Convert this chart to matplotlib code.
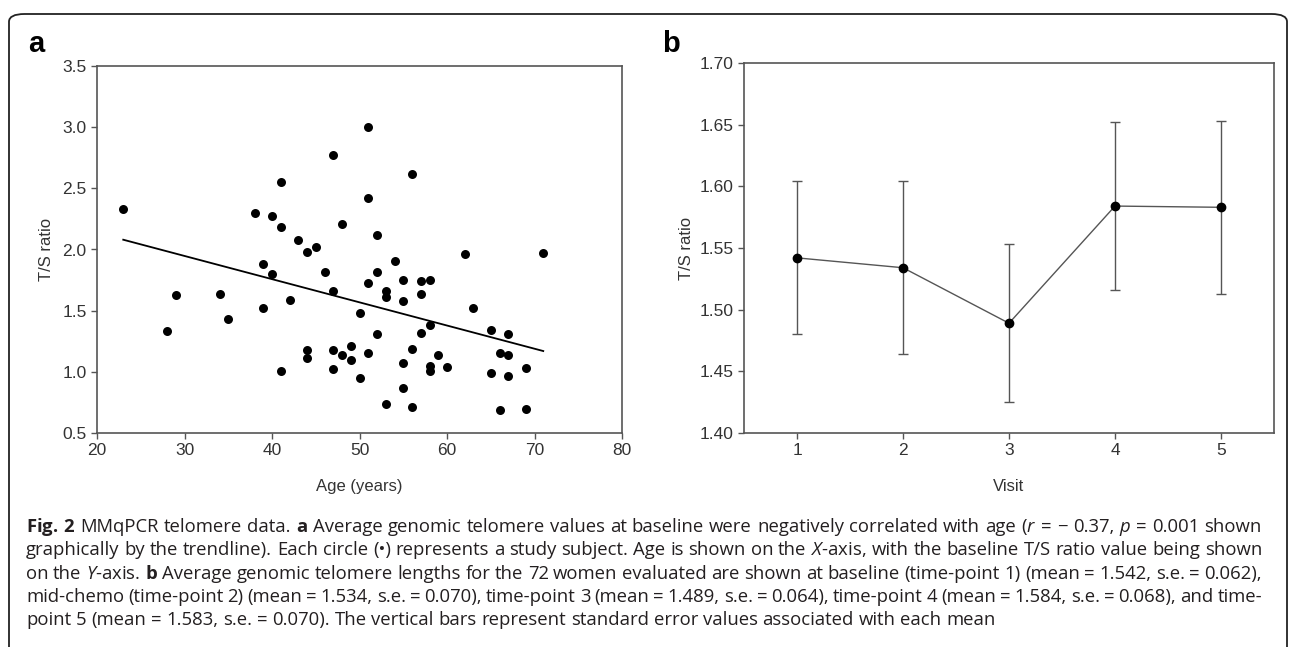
import matplotlib
matplotlib.use("Agg")
import matplotlib.pyplot as plt
from matplotlib.patches import FancyBboxPatch

# panel a: baseline T/S ratio against age
age = [23, 28, 29, 34, 35, 38, 39, 39, 40, 40, 41, 41, 41, 42, 43, 44, 44, 44,
       45, 46, 47, 47, 47, 47, 48, 48, 49, 49, 50, 50, 51, 51, 51, 51, 52, 52,
       52, 53, 53, 53, 54, 55, 55, 55, 55, 56, 56, 56, 57, 57, 57, 58, 58, 58,
       58, 59, 60, 62, 63, 65, 65, 66, 66, 67, 67, 67, 69, 69, 71]
ts_ratio = [2.33, 1.33, 1.63, 1.64, 1.43, 2.30, 1.88, 1.52, 2.27, 1.80, 2.55, 2.18,
            1.01, 1.59, 2.08, 1.98, 1.18, 1.11, 2.02, 1.82, 2.77, 1.66, 1.18, 1.02,
            2.21, 1.14, 1.21, 1.10, 1.48, 0.95, 3.00, 2.42, 1.73, 1.15, 2.12, 1.82,
            1.31, 1.66, 1.61, 0.74, 1.91, 1.75, 1.58, 1.07, 0.87, 2.62, 1.19, 0.71,
            1.74, 1.64, 1.32, 1.75, 1.38, 1.05, 1.01, 1.14, 1.04, 1.96, 1.52, 1.34,
            0.99, 1.15, 0.69, 1.31, 1.14, 0.97, 1.03, 0.70, 1.97]
trend_age = [23, 71]
trend_ts = [2.08, 1.17]

# panel b: mean T/S ratio per visit with standard errors
visits = [1, 2, 3, 4, 5]
mean_ts = [1.542, 1.534, 1.489, 1.584, 1.583]
se_ts = [0.062, 0.070, 0.064, 0.068, 0.070]

W, H = 1290, 647
plt.rcParams['mathtext.fontset'] = 'custom'
plt.rcParams['mathtext.rm'] = 'Open Sans'
plt.rcParams['mathtext.it'] = 'Open Sans:italic'
plt.rcParams['mathtext.bf'] = 'Open Sans:bold'

fig = plt.figure(figsize=(W / 100, H / 100), dpi=100)

# rounded frame around the figure, open at the bottom
frame = FancyBboxPatch((9 / W, -0.2), (1287 - 9) / W, 1.2 - 14 / H,
                       boxstyle="round,pad=0,rounding_size=0.012",
                       transform=fig.transFigure, fill=False,
                       edgecolor='#222222', linewidth=1.3)
fig.patches.append(frame)

sans = ['Liberation Sans', 'DejaVu Sans']
spine_col = '#555555'


def style_axes(ax):
    for s in ax.spines.values():
        s.set_color(spine_col)
        s.set_linewidth(1.2)
    ax.tick_params(direction='out', length=4, width=1.0, color=spine_col,
                   labelsize=12.5, labelcolor='#333333')
    for lab in ax.get_xticklabels() + ax.get_yticklabels():
        lab.set_fontfamily(sans)


# ---- panel a
ax1 = fig.add_axes([97 / W, 1 - 433 / H, (622 - 97) / W, (433 - 66) / H])
ax1.scatter(age, ts_ratio, s=42, color='black', zorder=3, linewidths=0)
ax1.plot(trend_age, trend_ts, color='black', linewidth=1.3)
ax1.set_xlim(20, 80)
ax1.set_ylim(0.5, 3.5)
ax1.set_xticks(range(20, 81, 10))
ax1.set_yticks([0.5, 1.0, 1.5, 2.0, 2.5, 3.0, 3.5])
ax1.set_yticklabels(['%.1f' % v for v in ax1.get_yticks()])
style_axes(ax1)
ax1.set_xlabel('Age (years)', fontsize=12, color='#333333', family=sans, labelpad=15)
ax1.set_ylabel('T/S ratio', fontsize=12, color='#333333', family=sans, labelpad=6)

# ---- panel b
ax2 = fig.add_axes([744 / W, 1 - 433 / H, (1274 - 744) / W, (433 - 63) / H])
ax2.errorbar(visits, mean_ts, yerr=se_ts, color='#555555', linewidth=1.0,
             elinewidth=1.0, capsize=3.5, capthick=1.0, marker='o',
             markersize=6, markerfacecolor='black', markeredgecolor='black')
ax2.set_xlim(0.5, 5.5)
ax2.set_ylim(1.40, 1.70)
ax2.set_xticks(visits)
ax2.set_yticks([1.40, 1.45, 1.50, 1.55, 1.60, 1.65, 1.70])
ax2.set_yticklabels(['%.2f' % v for v in ax2.get_yticks()])
style_axes(ax2)
ax2.set_xlabel('Visit', fontsize=12, color='#333333', family=sans, labelpad=15)
ax2.set_ylabel('T/S ratio', fontsize=12, color='#333333', family=sans, labelpad=4)

# panel letters
fig.text(28 / W, 1 - 52 / H, 'a', fontsize=21, fontweight='bold', family=sans)
fig.text(662 / W, 1 - 52 / H, 'b', fontsize=21, fontweight='bold', family=sans)

# caption, justified word by word
m = ['%.3f' % v for v in mean_ts]
e = ['%.3f' % v for v in se_ts]
caption = [
    r"$\mathbf{Fig.}$ $\mathbf{2}$ MMqPCR telomere data. $\mathbf{a}$ Average genomic telomere values at baseline "
    r"were negatively correlated with age ($\mathit{r}$ = − 0.37, $\mathit{p}$ = 0.001 shown",
    r"graphically by the trendline). Each circle (•) represents a study subject. Age is shown on the "
    r"$\mathit{X}$-axis, with the baseline T/S ratio value being shown",
    r"on the $\mathit{Y}$-axis. $\mathbf{b}$ Average genomic telomere lengths for the 72 women evaluated "
    r"are shown at baseline (time-point 1) (mean = %s, s.e. = %s)," % (m[0], e[0]),
    "mid-chemo (time-point 2) (mean = %s, s.e. = %s), time-point 3 (mean = %s, s.e. = %s), "
    "time-point 4 (mean = %s, s.e. = %s), and time-" % (m[1], e[1], m[2], e[2], m[3], e[3]),
    "point 5 (mean = %s, s.e. = %s). The vertical bars represent standard error values "
    "associated with each mean" % (m[4], e[4]),
]
cap_kw = dict(fontsize=13.3, family=['Open Sans', 'DejaVu Sans'], color='#231f20', va='baseline')
renderer = fig.canvas.get_renderer()
probe_a = fig.text(0, 0, 'a a', **cap_kw)
probe_b = fig.text(0, 0, 'aa', **cap_kw)
space_w = probe_a.get_window_extent(renderer).width - probe_b.get_window_extent(renderer).width
probe_a.remove()
probe_b.remove()

x_left, x_right = 26, 1262
for i, line in enumerate(caption):
    y = 1 - (532 + 23.3 * i) / H
    words = line.split(' ')
    texts = [fig.text(0, y, w, **cap_kw) for w in words]
    widths = [t.get_window_extent(renderer).width for t in texts]
    if i < len(caption) - 1:
        gap = (x_right - x_left - sum(widths)) / (len(words) - 1)
    else:
        gap = space_w
    x = x_left
    for t, w in zip(texts, widths):
        t.set_x(x / W)
        x += w + gap

fig.savefig('out.png', dpi=100)
